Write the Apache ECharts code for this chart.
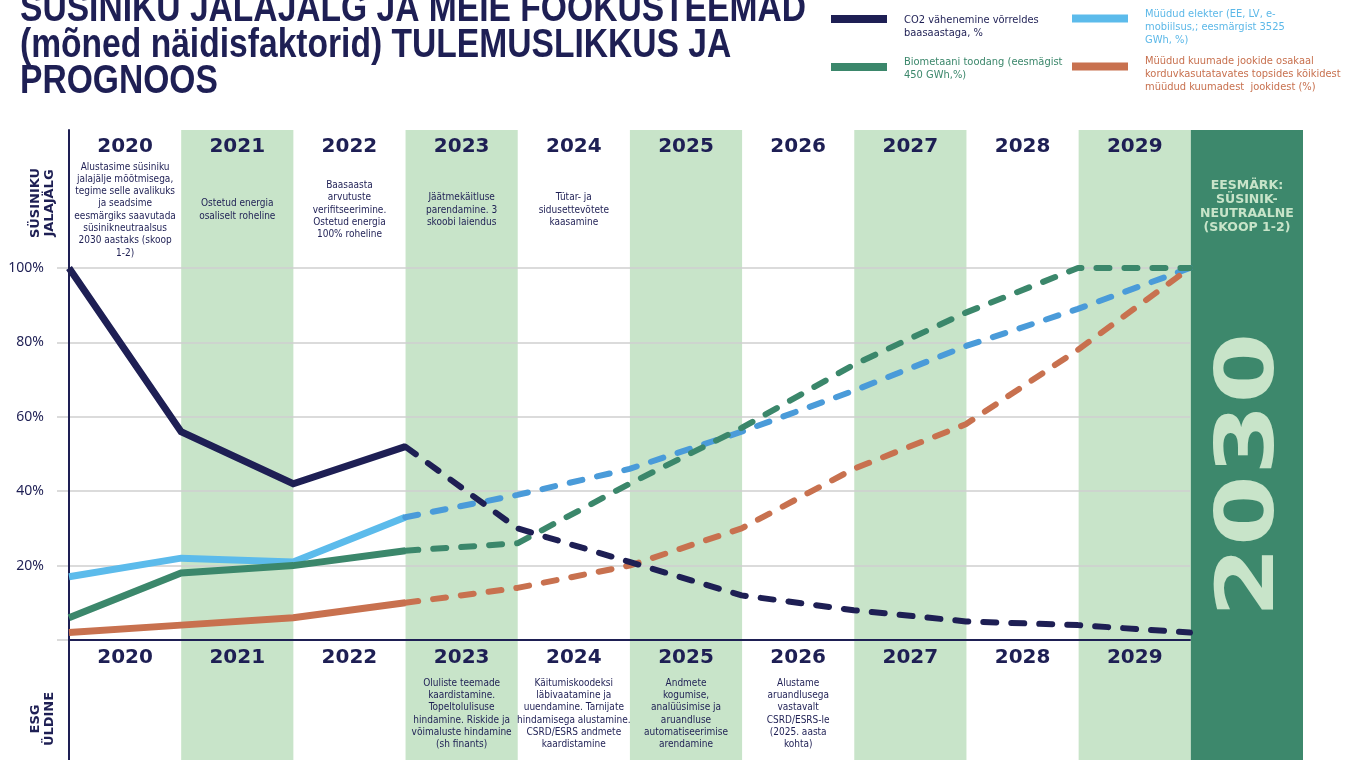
<!DOCTYPE html>
<html>
<head>
<meta charset="utf-8">
<script src="https://cdn.jsdelivr.net/npm/echarts@6/dist/echarts.min.js"></script>
<style>
  html, body { margin: 0; padding: 0; background: #fff; }
  #chart { width: 1352px; height: 760px; }
</style>
</head>
<body>
<div id="chart"></div>
<script>
// --- data ---
const years = ['2020', '2021', '2022', '2023', '2024', '2025', '2026', '2027', '2028', '2029', '2030'];
const co2Reduction = [100, 56, 42, 52, 30, 21, 12, 8, 5, 4, 2];
const soldElectricity = [17, 22, 21, 33, 39, 46, 56, 67, 79, 89, 100];
const biomethane = [6, 18, 20, 24, 26, 42, 57, 74, 88, 100, 100];
const reusableCups = [2, 4, 6, 10, 14, 20, 30, 46, 58, 78, 100];
const lastActualIndex = 3; // 2023 - after that the lines are forecasts (dashed)
const yTicks = [0, 20, 40, 60, 80, 100];

const topNotes = [
  'Alustasime süsiniku\njalajälje mõõtmisega,\ntegime selle avalikuks\nja seadsime\neesmärgiks saavutada\nsüsinikneutraalsus\n2030 aastaks (skoop\n1-2)',
  'Ostetud energia\nosaliselt roheline',
  'Baasaasta\narvutuste\nverifitseerimine.\nOstetud energia\n100% roheline',
  'Jäätmekäitluse\nparendamine. 3\nskoobi laiendus',
  'Tütar- ja\nsidusettevõtete\nkaasamine',
  '', '', '', '', '',
  'EESMÄRK:\nSÜSINIK-\nNEUTRAALNE\n(SKOOP 1-2)'
];
const bottomNotes = [
  '', '', '',
  'Oluliste teemade\nkaardistamine.\nTopeltolulisuse\nhindamine. Riskide ja\nvõimaluste hindamine\n(sh finants)',
  'Käitumiskoodeksi\nläbivaatamine ja\nuuendamine. Tarnijate\nhindamisega alustamine.\nCSRD/ESRS andmete\nkaardistamine',
  'Andmete\nkogumise,\nanalüüsimise ja\naruandluse\nautomatiseerimise\narendamine',
  'Alustame\naruandlusega\nvastavalt\nCSRD/ESRS-le\n(2025. aasta\nkohta)',
  '', '', '', ''
];

const names = {
  co2: 'CO2 vähenemine võrreldes\nbaasaastaga, %',
  elec: 'Müüdud elekter (EE, LV, e-\nmobiilsus,; eesmärgist 3525\nGWh, %)',
  bio: 'Biometaani toodang (eesmägist\n450 GWh,%)',
  cups: 'Müüdud kuumade jookide osakaal\nkorduvkasutatavates topsides kõikidest\nmüüdud kuumadest  jookidest (%)'
};

const navy = '#1e1f54';
const lightBlue = '#5cbbeb';
const blueDash = '#4a9bd9';
const green = '#3b876b';
const orange = '#c8714f';
const bandGreen = '#c8e4c9';
const goalGreen = '#3d886c';
const narrow = '"Liberation Sans Narrow", "DejaVu Sans Condensed", "Noto Sans", sans-serif';
const wide = '"DejaVu Sans", sans-serif';

function actual(values) {
  return values.map((v, i) => (i <= lastActualIndex ? v : '-'));
}
function forecast(values) {
  return values.map((v, i) => (i >= lastActualIndex ? v : '-'));
}

function lineSeries(name, values, color, dashed, dashColor) {
  return {
    name: name,
    type: 'line',
    xAxisIndex: 4,
    yAxisIndex: 1,
    data: dashed ? forecast(values) : actual(values),
    symbol: 'none',
    color: color,
    z: 3,
    lineStyle: dashed
      ? { color: dashColor || color, width: 6, type: [13, 15], cap: 'round' }
      : { color: color, width: 7, join: 'miter' }
  };
}

// legend swatch sits at the top of a taller icon box so it lines up with the first text line
function legendItem(name, color, left, top, boxHeight) {
  return {
    left: left, top: top, padding: 0, selectedMode: false,
    icon: 'path://M0,0H56V8H0Z M0,' + boxHeight + 'L0.01,' + boxHeight,
    itemWidth: 56, itemHeight: boxHeight,
    data: [{ name: name, textStyle: { color: color } }],
    textStyle: { fontFamily: narrow, fontSize: 11, lineHeight: 13, padding: [0, 0, 0, 12] }
  };
}

const noteLabel = {
  interval: 0, margin: 0, verticalAlign: 'middle', color: navy,
  fontFamily: narrow, fontSize: 10, lineHeight: 12.3
};
const yearLabel = {
  interval: 0, margin: 0, verticalAlign: 'middle', color: navy,
  fontFamily: wide, fontWeight: 'bold', fontSize: 20,
  formatter: (v) => (v === '2030' ? '' : v)
};
const hidden = { show: false };

const chart = echarts.init(document.getElementById('chart'));
chart.setOption({
  animation: false,
  legend: [
    legendItem(names.co2, navy, 831, 14, 24),
    legendItem(names.elec, '#5cb8e8', 1072, 8, 26),
    legendItem(names.bio, green, 831, 56, 12),
    legendItem(names.cups, orange, 1072, 55, 24)
  ],
  grid: [
    { left: 69, right: 49, top: 130, bottom: 0 },
    { left: 69, right: 162, top: 268, bottom: 120 },
    { left: 57, right: 162, top: 268, bottom: 120 }
  ],
  xAxis: [
    { gridIndex: 0, type: 'category', data: years, position: 'bottom', offset: -102, z: 1,
      axisLine: hidden, axisTick: hidden, axisLabel: yearLabel },
    { gridIndex: 0, type: 'category', data: bottomNotes, position: 'bottom', offset: -46, z: 1,
      axisLine: hidden, axisTick: hidden, axisLabel: noteLabel },
    { gridIndex: 0, type: 'category', data: years, position: 'top', offset: -17, z: 1,
      axisLine: hidden, axisTick: hidden, axisLabel: yearLabel },
    { gridIndex: 0, type: 'category', data: topNotes, position: 'top', offset: -80, z: 1,
      axisLine: hidden, axisTick: hidden,
      axisLabel: Object.assign({}, noteLabel, {
        formatter: (v, i) => (i === topNotes.length - 1
          ? v.split('\n').map((l) => '{goal|' + l + '}').join('\n') + '\n{gap|}'
          : v),
        rich: {
          goal: { color: bandGreen, fontFamily: wide, fontWeight: 'bold', fontSize: 12.5, lineHeight: 14 },
          gap: { lineHeight: 6 }
        }
      }) },
    { gridIndex: 1, type: 'category', data: years, boundaryGap: false, z: 2,
      axisLine: { lineStyle: { color: navy, width: 2 } }, axisTick: hidden, axisLabel: hidden },
    { gridIndex: 2, type: 'value', show: false }
  ],
  yAxis: [
    { gridIndex: 0, type: 'value', min: 0, max: 1, z: 2,
      axisLine: { show: true, lineStyle: { color: navy, width: 2 } },
      axisLabel: hidden, axisTick: hidden, splitLine: hidden },
    { gridIndex: 1, type: 'value', min: yTicks[0], max: yTicks[yTicks.length - 1], show: false },
    { gridIndex: 2, type: 'value', min: yTicks[0], max: yTicks[yTicks.length - 1], interval: 20, z: 1,
      axisLine: hidden, axisTick: hidden,
      axisLabel: { margin: 13, color: navy, fontFamily: '"Noto Sans", sans-serif', fontSize: 14,
        formatter: (v) => (v === 0 ? '' : v + '%') },
      splitLine: { lineStyle: { color: '#cfcfcf', width: 1.5 } } }
  ],
  series: [
    {
      type: 'bar', xAxisIndex: 0, yAxisIndex: 0, silent: true, z: 0,
      barCategoryGap: 0,
      data: years.map(() => 1),
      itemStyle: {
        color: (p) => (p.dataIndex === years.length - 1 ? goalGreen : (p.dataIndex % 2 === 1 ? bandGreen : 'rgba(0,0,0,0)'))
      }
    },
    lineSeries(names.elec, soldElectricity, lightBlue, false),
    lineSeries(names.bio, biomethane, green, false),
    lineSeries(names.cups, reusableCups, orange, false),
    lineSeries(names.co2, co2Reduction, navy, false),
    lineSeries(names.elec, soldElectricity, lightBlue, true, blueDash),
    lineSeries(names.bio, biomethane, green, true),
    lineSeries(names.cups, reusableCups, orange, true),
    lineSeries(names.co2, co2Reduction, navy, true)
  ],
  graphic: [
    { type: 'text', x: 20, y: -8, scaleX: 0.84, z: 100,
      style: { text: 'SÜSINIKU JALAJÄLG JA MEIE FOOKUSTEEMAD\n(mõned näidisfaktorid) TULEMUSLIKKUS JA\nPROGNOOS',
        fill: navy, font: 'bold 40px "Liberation Sans Narrow", sans-serif', lineHeight: 36 } },
    { type: 'text', x: 43, y: 203, rotation: Math.PI / 2, z: 100,
      style: { text: 'SÜSINIKU\nJALAJÄLG', fill: navy, font: 'bold 13px "DejaVu Sans"', lineHeight: 14, align: 'center', verticalAlign: 'middle' } },
    { type: 'text', x: 43, y: 719, rotation: Math.PI / 2, z: 100,
      style: { text: 'ESG\nÜLDINE', fill: navy, font: 'bold 13px "DejaVu Sans"', lineHeight: 14, align: 'center', verticalAlign: 'middle' } },
    { type: 'text', x: 1252, y: 475, rotation: Math.PI / 2, scaleX: 1.28, z: 100,
      style: { text: '2030', fill: bandGreen, font: 'bold 80px "DejaVu Sans"', align: 'center', verticalAlign: 'middle' } }
  ]
});
</script>
</body>
</html>
